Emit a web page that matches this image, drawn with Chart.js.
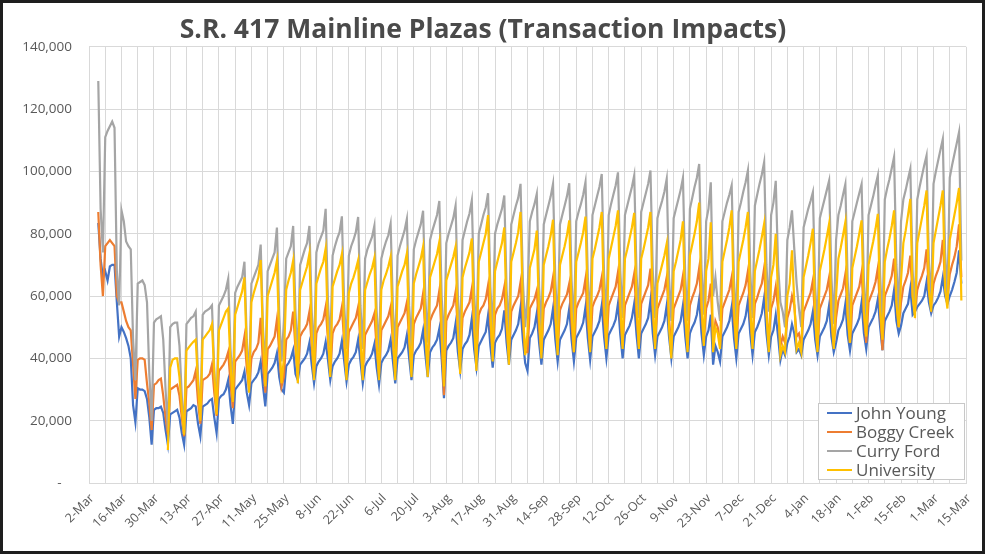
<!DOCTYPE html>
<html>
<head>
<meta charset="utf-8">
<script src="https://cdn.jsdelivr.net/npm/chart.js@4.4.1/dist/chart.umd.min.js"></script>
<style>
  html, body { margin: 0; padding: 0; background: #fff; }
  #wrap { position: relative; width: 985px; height: 554px; }
</style>
</head>
<body>
<div id="wrap"><canvas id="plazaChart"></canvas></div>
<script>
// x axis: days counted from 2-Mar, a label every 14 days
const tickLabels = ["2-Mar", "16-Mar", "30-Mar", "13-Apr", "27-Apr", "11-May", "25-May",
  "8-Jun", "22-Jun", "6-Jul", "20-Jul", "3-Aug", "17-Aug", "31-Aug", "14-Sep", "28-Sep",
  "12-Oct", "26-Oct", "9-Nov", "23-Nov", "7-Dec", "21-Dec", "4-Jan", "18-Jan", "1-Feb",
  "15-Feb", "1-Mar", "15-Mar"];
const lastDay = 378;

const seriesNames = ["John Young", "Boggy Creek", "Curry Ford", "University"];
const seriesColors = ["#4472C4", "#ED7D31", "#A5A5A5", "#FFC000"];
// first day with data (days after 2-Mar)
const firstDays = [4, 4, 4, 34];

// daily transactions, thousands (one row per Mon..Sun week)
const johnYoung = [
  83.5, 72, 66,
  68, 65, 69.5, 70, 70, 58, 47,
  50, 48.5, 46.5, 44, 40, 25, 19.5,
  30.4, 30, 30, 29.5, 27, 21, 12.3,
  23.5, 24, 24, 24.5, 22.5, 17, 12.3,
  22, 22.5, 23, 23.5, 21, 16, 12.3,
  23, 23.5, 24, 25, 24.6, 19, 15,
  24.5, 25, 25.5, 26.5, 27, 21, 16,
  27, 28, 28.5, 30, 33, 25, 19,
  30, 31, 32, 33, 35.8, 29, 25,
  32, 33, 34, 35.5, 39, 31, 24.6,
  35, 36, 37, 38.5, 41.7, 34, 30,
  29, 37.5, 38.5, 40, 42.7, 35, 33,
  38, 39, 40, 41.5, 45, 38, 32,
  37.5, 39, 40, 41.5, 45.3, 39.5, 33,
  37.5, 39, 40, 41.5, 45.6, 39, 32.5,
  38, 39.5, 40.5, 42, 46, 39, 32,
  37.5, 39, 40, 41.5, 44.6, 37, 31.5,
  38.5, 40, 41, 42.5, 46, 39, 32,
  40, 41, 42, 43.5, 47.5, 40, 33,
  41, 42.5, 43.5, 45, 49, 41, 34,
  42, 43.5, 44.5, 46, 49.6, 40, 27.2,
  42.5, 44, 45, 46.5, 51.2, 42, 36,
  43, 44.5, 45.5, 47.5, 52.8, 43, 37,
  44, 45.5, 47, 48.5, 53.8, 44, 37,
  45, 46.5, 47.5, 49.5, 55.4, 45, 38,
  46, 47.5, 49, 51, 56.4, 46, 38.5,
  36, 46.5, 48, 50, 54.5, 45, 38,
  46, 47.5, 49, 51, 56, 46, 39,
  46, 47.5, 49, 51, 56, 46, 39,
  46.5, 48, 49.5, 51.5, 56.5, 46.5, 39.5,
  47, 48.5, 50, 52, 57, 47, 40,
  47.5, 49, 50.5, 52.5, 57.6, 47.5, 40,
  47.5, 49, 50.5, 53, 57.6, 47.5, 40,
  48, 49.5, 51, 53, 58.6, 48, 41,
  47, 48.5, 50, 52, 57, 47, 40,
  47, 48.5, 50, 52, 57, 47, 40,
  48, 50, 51.5, 54, 59, 48, 41,
  47, 49, 54, 38, 44, 42, 39,
  47, 48.5, 50, 52, 56.5, 46.5, 40,
  48, 49.5, 51, 53.5, 58.5, 48, 41,
  48.5, 50, 52, 54.5, 59.5, 48, 41,
  47, 49, 54, 47, 39.4, 43, 41,
  45, 47, 51, 48, 42, 43, 41,
  46, 47.5, 49, 51, 55, 46, 41,
  47, 48.5, 50, 52, 57, 47, 42,
  45, 49, 50.5, 52.5, 57.5, 47.5, 42.5,
  48, 49.5, 51, 53, 58, 48, 43,
  50, 51.5, 53, 55, 59, 50, 42.6,
  52, 53.5, 55, 57, 62, 52, 48,
  50.5, 54.5, 56, 57.5, 62.5, 54, 55,
  56.5, 57.5, 58.5, 60, 64.5, 58, 54.5,
  57, 58, 59.5, 61.5, 66, 60, 57.5,
  60, 62, 64.5, 67.5, 74.7, 64
];

const boggyCreek = [
  87, 70, 60,
  76, 77, 78, 77, 76, 60, 58,
  58, 55, 52, 50, 49, 38, 27,
  39.5, 40, 40, 39.5, 32, 25.5, 17,
  31.5, 32, 33, 33.5, 28, 21, 15.5,
  30, 30.5, 31, 31.5, 28, 21, 15,
  30.5, 31, 32, 33, 36, 26, 19,
  33, 33.5, 34, 35, 38, 29, 21.5,
  36, 37, 38, 39.5, 42, 32, 24,
  39, 40, 41, 42.5, 47, 37, 30,
  40, 42, 43, 45, 53, 38, 29,
  43, 44, 45.5, 47, 52.5, 42, 31,
  34, 46, 47, 49, 55, 43, 34,
  47, 48.5, 49.5, 51, 55, 44, 35,
  48, 50, 51, 52.5, 56.5, 46, 36,
  48, 50, 51, 52.5, 56.5, 45, 35,
  48.5, 50, 51.5, 53, 56.5, 45, 35,
  47.5, 49, 50.5, 52, 54.4, 43, 35,
  49, 50.5, 52, 53.5, 56.5, 45, 36,
  50, 51.5, 53, 54.5, 58, 46, 37,
  51, 53, 54.5, 56, 60.8, 48, 38,
  52, 54, 55.5, 57, 61.8, 47, 28.2,
  52, 54, 55.5, 57, 61.3, 49, 40,
  53, 55, 56.5, 58, 62.4, 50, 41,
  54, 56, 57, 59, 63.4, 51, 42,
  54, 56, 57, 59, 62.9, 50, 41,
  55, 57, 58.5, 60, 64.5, 52, 42,
  42, 56, 57.5, 59, 61.8, 50, 42,
  56, 58, 59.5, 61.5, 66, 53, 43,
  55.5, 57.5, 59, 60.5, 64, 51, 42,
  56, 58, 59.5, 61, 65.6, 52, 43,
  56.5, 58.5, 60, 62, 66, 53, 44,
  57, 59, 61, 63, 67.7, 54, 44,
  57, 59, 61, 63, 67.2, 54, 44,
  57.5, 59.5, 61.5, 63.5, 68.8, 55, 45,
  56, 58, 60, 62, 66, 53, 43,
  56, 58, 60, 62, 66.5, 53, 43,
  57, 59.5, 61.5, 64, 69, 55, 45,
  56, 58.5, 64, 45, 52, 50, 44,
  56, 58, 60, 62, 66, 53, 44,
  57, 59, 61, 63.5, 68, 54, 45,
  57.5, 59.5, 62, 64, 69, 55, 45.8,
  56, 58.5, 63, 56, 44, 47, 45,
  53, 55.5, 60, 57, 47, 48, 44,
  55, 57, 59, 61, 65, 52, 43,
  56, 58, 60, 62, 66, 53, 44,
  53, 58.5, 60.5, 62.5, 67, 54, 45,
  57, 59, 61, 63, 67.5, 54, 45,
  58, 60, 62, 64.5, 69, 55, 42.6,
  60, 62, 64, 66.5, 72, 58, 50,
  58, 63, 65, 67.5, 73, 60, 55,
  62, 64.5, 66.5, 69, 75, 62, 57,
  64, 66.5, 68.5, 71, 78, 64, 59,
  67, 70, 72.5, 76, 83, 66
];

const curryFord = [
  129, 88, 74,
  111, 113, 114.5, 116, 114, 68, 57,
  87.5, 84, 77.5, 76, 75, 46, 33,
  64, 64.5, 65, 63.5, 58, 35, 20,
  51.5, 52.5, 53, 53.5, 46, 30, 17,
  50, 51, 51.5, 51.5, 44, 28, 16,
  51, 52, 53, 53.5, 55, 34, 21,
  54, 55, 55.5, 56, 57, 36, 24,
  57, 58.5, 60, 62, 65.5, 43, 30,
  61, 63, 64.5, 66, 71, 46, 33,
  64, 66, 68, 70, 76.5, 50, 36,
  68, 70, 72, 74, 82, 54, 39,
  52, 72, 74, 76, 82.5, 55, 40,
  70, 72.5, 75, 77, 82.5, 55, 41,
  74, 77, 79, 81, 88, 58, 44,
  73, 76, 78.5, 80.5, 85.6, 57, 43,
  73, 76, 78, 80.5, 85.4, 57, 43,
  72, 75, 77, 79, 82.6, 55, 42,
  72, 75, 77.5, 79.5, 83.2, 56, 43,
  73, 76, 78.5, 81, 84.7, 57, 44,
  75, 78, 80.5, 83, 87.4, 59, 45,
  78, 81, 83.5, 86, 90.5, 60, 42,
  77, 80, 82.5, 85, 89, 60, 46,
  78, 81, 84, 86.5, 90.7, 61, 47,
  80, 83, 86, 88.5, 93, 63, 48,
  80, 83, 85.5, 88, 92.3, 62, 48,
  83, 86, 89, 91.5, 96, 65, 50,
  60, 84, 87, 89.5, 92.8, 63, 49,
  83, 86, 89, 92, 96, 65, 50,
  83, 86, 89, 92, 96.2, 65, 50,
  84, 87, 89.5, 92.5, 96.6, 66, 51,
  86, 89, 92, 95, 99.2, 67, 52,
  86, 89.5, 92.5, 95.5, 99.7, 68, 53,
  86, 89, 92, 95, 98.7, 67, 53,
  87, 90, 93, 96, 100.3, 68, 53,
  85, 88, 90.5, 93.5, 97.6, 66, 52,
  85, 88, 91, 94, 97.9, 66, 52,
  88, 91.5, 95, 98, 102.4, 69, 54,
  84, 88, 96.5, 60, 66, 58, 52,
  84, 87, 90, 92.5, 95.5, 65, 51,
  87, 90, 93.5, 96.5, 100.3, 68, 53,
  89, 92.5, 96, 99, 103, 70, 55,
  86, 90, 97, 70, 58, 55, 50,
  78, 82, 87.5, 75, 64, 56, 50,
  82, 85, 88, 90.5, 93.3, 63, 49,
  85, 88, 91, 94, 97, 66, 51,
  78, 86, 89, 92.5, 95.9, 65, 51,
  84, 87, 90, 93, 95.9, 65, 51,
  86, 89, 92, 95.5, 98.7, 67, 50,
  91, 94.5, 97.5, 101, 104.6, 70, 55,
  84, 91, 94, 97.5, 100.8, 68, 56,
  91, 95, 98.5, 102, 105.1, 71, 58,
  96, 100, 103.5, 107, 110.4, 74, 60,
  98, 102, 105.5, 109, 112.6, 71.4
];

const university = [
  10.6,
  37, 39.5, 40, 40, 34, 24, 15.5,
  42.5, 43.5, 44.5, 45.3, 46, 32, 20,
  46, 47, 48, 49, 51, 35, 22,
  49, 51, 53, 55, 56, 38, 26,
  54, 56.5, 59, 61.5, 66, 42, 29,
  58, 61, 63.5, 66, 71.6, 46, 31,
  60, 62.5, 65, 67.5, 71.4, 46, 32,
  40, 62, 65, 67.5, 71.4, 46, 32,
  62, 64.5, 67, 69.5, 73.6, 47, 33,
  64, 66.5, 69, 71, 75.2, 48, 34,
  63, 65.5, 68, 70, 73.5, 47, 33,
  61, 64, 66, 68.5, 71.5, 46, 33,
  62, 64.5, 67, 69, 72.2, 46, 33,
  62, 65, 67, 69.5, 72.6, 47, 33,
  63, 65.5, 68, 70, 73.7, 47, 34,
  64, 67, 69.5, 72, 75.8, 48, 34,
  66, 68.5, 71, 73.5, 77.4, 48, 31,
  65, 67.5, 70, 72.5, 75.8, 49, 35,
  66, 69, 71.5, 74, 78.5, 51, 36,
  71, 74, 77, 80, 86, 55, 39,
  68, 71, 74, 77, 82, 53, 38,
  71, 74, 77, 80.5, 87, 56, 41,
  48, 69, 72, 75, 81, 53, 40,
  70, 73, 76, 79.5, 84.5, 55, 41,
  70, 73, 76, 79.5, 84.3, 55, 42,
  71, 74, 77, 80.5, 85.5, 56, 42,
  72, 75, 78.5, 82, 87, 57, 43,
  72, 75.5, 79, 82.5, 87.5, 57, 43,
  72, 75, 78.5, 82, 86.7, 57, 43,
  72, 75, 78.5, 82, 87, 57, 43,
  64, 67, 70, 73, 76.8, 50, 40,
  68, 71, 74.5, 78, 84, 55, 42,
  73, 76.5, 80, 84, 90, 58, 44,
  68, 72, 83.7, 42, 50, 48, 43,
  71, 74.5, 78, 82, 87.5, 56, 43,
  71, 74.5, 78, 82, 87, 56, 43,
  68, 71.5, 75, 79, 83.2, 54, 42,
  66, 70, 80, 60, 41, 44, 42,
  60, 64, 74.7, 58, 43, 45, 42,
  66, 69.5, 73, 77, 81.6, 53, 42,
  68, 71.5, 75, 79, 83.2, 54, 43,
  60, 72, 75.5, 79.5, 83.7, 54, 45,
  69, 72.5, 76, 80, 84.3, 55, 47,
  70, 74, 77.5, 81.5, 86.4, 56, 46,
  71, 75, 78.5, 82.5, 87.5, 58, 50,
  65, 77, 81, 86, 91.2, 60, 53,
  77, 81, 85, 89, 93.9, 62, 55,
  77, 81, 85, 89, 93.9, 62, 56,
  78, 82, 86, 90, 94.7, 58.6
];

const yTicks = [0, 20000, 40000, 60000, 80000, 100000, 120000, 140000];

const allSeries = [johnYoung, boggyCreek, curryFord, university];

function toPoints(values, start) {
  return values.map((v, i) => ({ x: start + i, y: v * 1000 }));
}

const textGray = "#595959";
const gridGray = "#d9d9d9";

// Excel style: legend boxed inside the plot, outer frame round the picture
const framePlugin = {
  id: "framePlugin",
  afterDraw(chart) {
    const ctx = chart.ctx;
    const area = chart.chartArea;
    const boxW = 146, boxH = 76;
    const bx = area.right - boxW - 2, by = area.bottom - boxH - 4;
    ctx.save();
    ctx.fillStyle = "#fff";
    ctx.fillRect(bx, by, boxW, boxH);
    ctx.strokeStyle = "#c8c8c8";
    ctx.lineWidth = 1;
    ctx.strokeRect(bx + 0.5, by + 0.5, boxW, boxH);
    ctx.font = "17px 'Open Sans'";
    ctx.textBaseline = "middle";
    seriesNames.forEach((name, i) => {
      const ry = by + 10 + i * 19;
      ctx.strokeStyle = seriesColors[i];
      ctx.lineWidth = 2;
      ctx.beginPath();
      ctx.moveTo(bx + 9, ry);
      ctx.lineTo(bx + 34, ry);
      ctx.stroke();
      ctx.fillStyle = textGray;
      ctx.fillText(name, bx + 38, ry + 1);
    });
    ctx.strokeStyle = "#1e1e1e";
    ctx.lineWidth = 3;
    ctx.strokeRect(1.5, 1.5, chart.width - 3, chart.height - 3);
    ctx.restore();
  }
};

new Chart(document.getElementById("plazaChart"), {
  type: "line",
  data: {
    datasets: allSeries.map((values, i) => ({
      label: seriesNames[i],
      data: toPoints(values, firstDays[i]),
      borderColor: seriesColors[i],
      backgroundColor: seriesColors[i],
      borderWidth: 2.2,
      pointRadius: 0,
      tension: 0,
      order: allSeries.length - i,
    })),
  },
  options: {
    responsive: true,
    maintainAspectRatio: false,
    animation: false,
    devicePixelRatio: 1,
    layout: { padding: { left: 0, right: 19, top: 0, bottom: 0 } },
    plugins: {
      legend: { display: false },
      tooltip: { enabled: false },
      title: {
        display: true,
        text: "S.R. 417 Mainline Plazas (Transaction Impacts)",
        color: "#4a4a4a",
        font: { family: "'Open Sans'", size: 26.5, weight: "bold" },
        padding: { top: 15, bottom: 0 },
      },
    },
    scales: {
      x: {
        type: "linear",
        min: 0,
        max: lastDay,
        afterBuildTicks: (scale) => {
          scale.ticks = [];
          for (let d = 0; d <= lastDay; d += 7) scale.ticks.push({ value: d });
        },
        afterFit: (scale) => { scale.height = 71; },
        ticks: {
          autoSkip: false,
          minRotation: 45,
          maxRotation: 45,
          padding: 8,
          labelOffset: 3,
          color: textGray,
          font: { family: "'Open Sans'", size: 12.5 },
          callback: (v) => (Math.round(v) % 14 === 0 ? tickLabels[Math.round(v) / 14] : ""),
        },
        grid: { color: gridGray, drawTicks: false },
        border: { color: gridGray },
      },
      y: {
        min: 0,
        max: 140000,
        afterBuildTicks: (scale) => {
          scale.ticks = yTicks.map((v) => ({ value: v }));
        },
        afterFit: (scale) => { scale.width = 89; },
        ticks: {
          padding: 17,
          color: textGray,
          font: { family: "'Open Sans'", size: 13.5 },
          callback: (v) => (v === 0 ? "-   " : v.toLocaleString("en-US")),
        },
        grid: { color: gridGray, drawTicks: false },
        border: { display: false },
      },
    },
  },
  plugins: [framePlugin],
});
</script>
</body>
</html>
